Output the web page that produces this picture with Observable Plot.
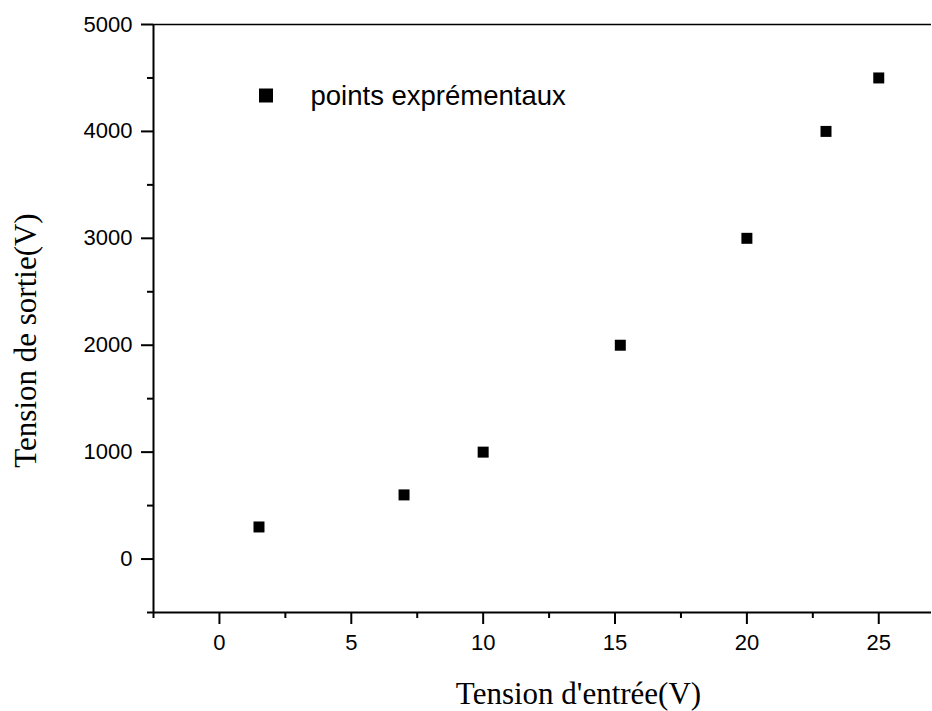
<!DOCTYPE html>
<html>
<head>
<meta charset="utf-8">
<script src="https://cdn.jsdelivr.net/npm/d3@7"></script>
<script src="https://cdn.jsdelivr.net/npm/@observablehq/plot@0.6"></script>
<style>
  html, body { margin: 0; padding: 0; background: white; }
  svg { display: block; }
</style>
</head>
<body>
<div id="chart"></div>
<script>
// Data
const inputVoltage = [1.5, 7, 10, 15.2, 20, 23, 25];
const outputVoltage = [300, 600, 1000, 2000, 3000, 4000, 4500];
const xMajorTicks = [0, 5, 10, 15, 20, 25];
const xMinorTicks = [-2.5, 2.5, 7.5, 12.5, 17.5, 22.5];
const yMajorTicks = [0, 1000, 2000, 3000, 4000, 5000];
const yMinorTicks = [-500, 500, 1500, 2500, 3500, 4500];
const xTitle = "Tension d'entrée(V)";
const yTitle = "Tension de sortie(V)";
const legendLabel = "points exprémentaux";

const sans = "'Liberation Sans', Arial, Helvetica, sans-serif";
const serif = "'Liberation Serif', 'Times New Roman', Times, serif";

const chart = Plot.plot({
  width: 932,
  height: 711,
  marginLeft: 153,
  marginRight: 1,
  marginTop: 24,
  marginBottom: 99,
  x: { domain: [-2.5, 27], axis: null },
  y: { domain: [-500, 5000], axis: null },
  style: { fontFamily: sans, fontSize: "22px", color: "black", background: "white" },
  marks: [
    Plot.axisY({ ticks: yMajorTicks, tickSize: 12, tickPadding: 9, strokeWidth: 2, fontSize: 22, tickFormat: "d", label: null }),
    Plot.axisY({ ticks: yMinorTicks, tickSize: 6, strokeWidth: 2, text: null, label: null }),
    Plot.axisX({ ticks: xMajorTicks, tickSize: 12, tickPadding: 10, strokeWidth: 2, fontSize: 22, tickFormat: "d", label: null }),
    Plot.axisX({ ticks: xMinorTicks, tickSize: 6, strokeWidth: 2, text: null, label: null }),
    Plot.ruleX([-2.5], { strokeWidth: 2 }),
    Plot.ruleY([-500], { strokeWidth: 2 }),
    Plot.ruleY([5000], { strokeWidth: 1.7 }),
    Plot.dot(inputVoltage, { x: inputVoltage, y: outputVoltage, symbol: "square", r: 6.2, fill: "black", stroke: "none" }),
    // legend
    Plot.dot([legendLabel], { frameAnchor: "top-left", dx: 112.5, dy: 71, symbol: "square", r: 7.9, fill: "black", stroke: "none" }),
    Plot.text([legendLabel], { text: d => d, frameAnchor: "top-left", dx: 157, dy: 72, textAnchor: "start", lineAnchor: "middle", fontSize: 27.5, fontFamily: sans, fill: "black" }),
    // axis titles
    Plot.text([xTitle], { text: d => d, frameAnchor: "bottom", dx: 36, dy: 82, textAnchor: "middle", lineAnchor: "middle", fontSize: 31, fontFamily: serif, fill: "black" }),
    Plot.text([yTitle], { text: d => d, frameAnchor: "left", dx: -127, dy: 22, rotate: -90, textAnchor: "middle", lineAnchor: "middle", fontSize: 31, fontFamily: serif, fill: "black" })
  ]
});
document.getElementById("chart").appendChild(chart);
</script>
</body>
</html>
